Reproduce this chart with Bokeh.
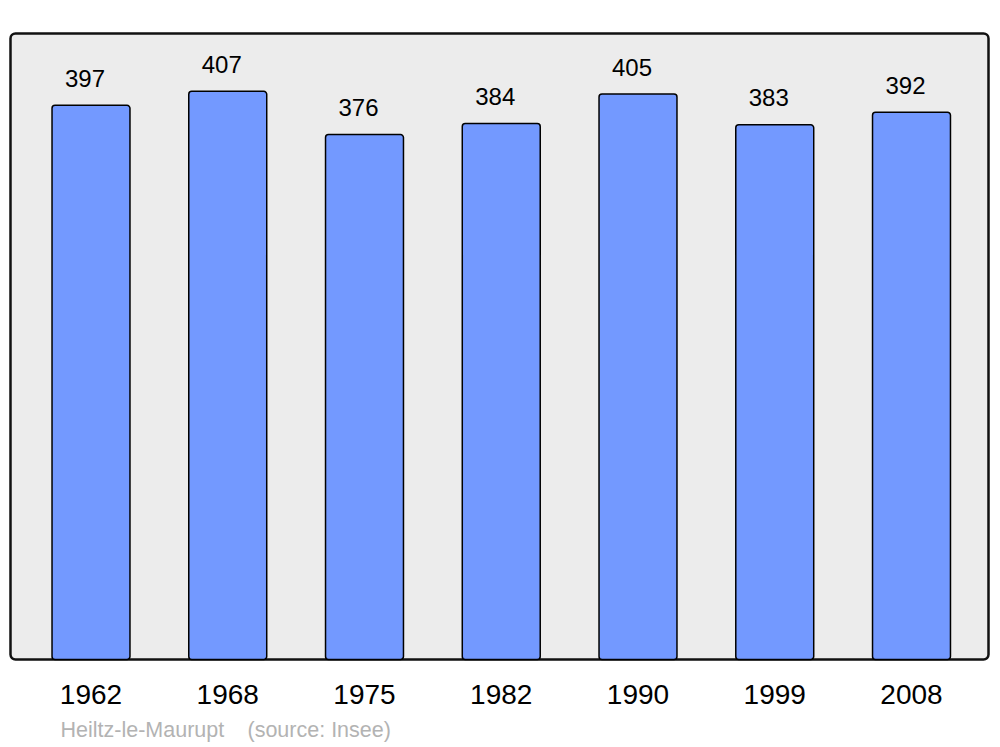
from bokeh.plotting import figure
from bokeh.models import ColumnDataSource, BoxAnnotation, Range1d
from bokeh.embed import file_html
from bokeh.resources import INLINE
from bokeh.core.properties import value

years = ["1962", "1968", "1975", "1982", "1990", "1999", "2008"]
population = [397, 407, 376, 384, 405, 383, 392]
place = "Heiltz-le-Maurupt"
source_note = "(source: Insee)"

xs = list(range(len(years)))
src = ColumnDataSource(dict(x=xs, top=population, label=[str(v) for v in population],
                            year=years, zero=[0] * len(years)))

X0, X1 = -0.5887, 6.5631   # plot box edges (category units)
Y1 = 448.4                 # plot box top (population units)

p = figure(width=990, height=745, output_backend="svg", toolbar_location=None,
           x_range=Range1d(-0.6618, 6.5777), y_range=Range1d(-61.60, 472.06),
           x_axis_location=None, y_axis_location=None,
           min_border=0, min_border_left=0, min_border_right=0,
           min_border_top=0, min_border_bottom=0)
p.outline_line_color = None
p.background_fill_color = "white"
p.border_fill_color = "white"
p.xgrid.visible = False
p.ygrid.visible = False

frame_box = BoxAnnotation(left=X0, right=X1, bottom=0, top=Y1,
                          fill_color="#ECECEC", fill_alpha=1.0, line_color="#111111",
                          line_alpha=1.0, line_width=2.5, border_radius=5, level="underlay")
p.add_layout(frame_box)

p.vbar(x="x", top="top", bottom=0, width=0.57, source=src, fill_color="#7399FF",
       line_color="#000000", line_width=1.5, border_radius=3)

p.text(x="x", y="top", text="label", source=src, text_align="center",
       text_baseline="alphabetic", x_offset=-6, y_offset=-27,
       text_font=value("Liberation Sans"), text_font_size="24px", text_color="#000000")

p.text(x="x", y="zero", text="year", source=src, text_align="center",
       text_baseline="alphabetic", y_offset=35, text_font=value("Liberation Sans"),
       text_font_size="28px", text_color="#000000")

p.text(x=[X0], y=[0], text=[place], text_align="left", text_baseline="alphabetic",
       x_offset=50, y_offset=70, text_font=value("Liberation Sans"),
       text_font_size="21.5px", text_color="#B3B3B3")
p.text(x=[X0], y=[0], text=[source_note], text_align="left", text_baseline="alphabetic",
       x_offset=237, y_offset=70, text_font=value("Liberation Sans"),
       text_font_size="21.5px", text_color="#B3B3B3")

open("out.html", "w").write(file_html(p, INLINE))
